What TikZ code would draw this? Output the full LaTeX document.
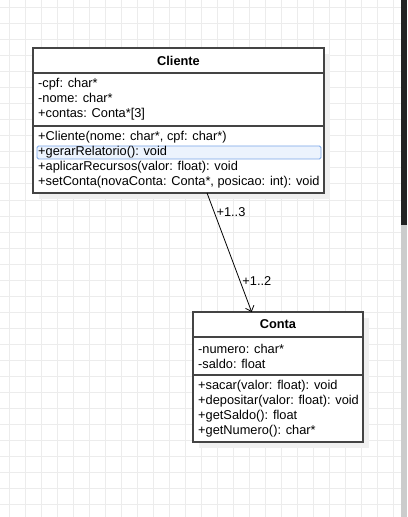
\documentclass[tikz,border=0pt]{standalone}
\usepackage{fontspec}
\setmainfont{Liberation Sans}
\usetikzlibrary{arrows.meta, positioning, calc, shadows}
\definecolor{gridline}{RGB}{236,236,236}
\definecolor{boxline}{RGB}{68,68,68}
\definecolor{shade}{RGB}{240,240,240}
\definecolor{selfill}{RGB}{236,243,253}
\definecolor{selline}{RGB}{122,166,232}
\definecolor{barthumb}{RGB}{34,34,34}
\definecolor{bartrack}{RGB}{204,204,204}

\begin{document}
\begin{tikzpicture}[x=1bp, y=-1bp,
    every node/.style={font=\fontsize{12.8bp}{15bp}\selectfont},
    classbox/.style={rectangle, draw=boxline, line width=1.3bp, fill=white,
                     anchor=north west, outer sep=0pt,
                     drop shadow={shadow xshift=6bp, shadow yshift=-6bp, fill=shade, opacity=1}},
    compart/.style={rectangle, draw=boxline, line width=1.3bp, anchor=north west,
                    inner sep=0pt, outer sep=0pt},
    members/.style={anchor=west, align=left, inner sep=0pt},
    assoc/.style={-{Straight Barb[length=5bp, width=9bp]}, line width=0.8bp}]

    \useasboundingbox (0,0) rectangle (407,517);

    % Canvas grid
    \fill[white] (0,0) rectangle (407,517);
    \foreach \x in {9,25,...,393}
        \draw[gridline, line width=1bp] (\x,0) -- (\x,517);
    \foreach \y in {8,24,...,504}
        \draw[gridline, line width=1bp] (0,\y) -- (401,\y);

    % Scrollbar
    \fill[barthumb] (401,0) rectangle (407,225);
    \fill[bartrack] (401,225) rectangle (407,517);

    % Cliente
    \node[classbox, minimum width=291bp, minimum height=145bp] (cliente) at (33,48) {};
    \draw[selline, fill=selfill, line width=0.8bp, rounded corners=1.5bp] (37,146) rectangle (321,159);
    \node[compart, minimum width=291bp, minimum height=25bp] (cliente-name) at (cliente.north west) {\textbf{Cliente}};
    \node[compart, minimum width=291bp, minimum height=53bp] (cliente-attrs) at (cliente-name.south west) {};
    \node[compart, minimum width=291bp, minimum height=67bp] (cliente-ops) at (cliente-attrs.south west) {};
    \node[members] (cliente-attrs-text) at ([xshift=5bp]cliente-attrs.west) {
        -cpf: char*\\ -nome: char*\\ +contas: Conta*[3]
    };
    \node[members] (cliente-ops-text) at ([xshift=5bp]cliente-ops.west) {
        +Cliente(nome: char*, cpf: char*)\\
        +gerarRelatorio(): void\\
        +aplicarRecursos(valor: float): void\\
        +setConta(novaConta: Conta*, posicao: int): void
    };

    % Conta
    \node[classbox, minimum width=170bp, minimum height=130bp] (conta) at (193,312) {};
    \node[compart, minimum width=170bp, minimum height=25bp] (conta-name) at (conta.north west) {\textbf{Conta}};
    \node[compart, minimum width=170bp, minimum height=38bp] (conta-attrs) at (conta-name.south west) {};
    \node[compart, minimum width=170bp, minimum height=67bp] (conta-ops) at (conta-attrs.south west) {};
    \node[members] (conta-attrs-text) at ([xshift=5bp]conta-attrs.west) {
        -numero: char*\\ -saldo: float
    };
    \node[members] (conta-ops-text) at ([xshift=5bp]conta-ops.west) {
        +sacar(valor: float): void\\
        +depositar(valor: float): void\\
        +getSaldo(): float\\
        +getNumero(): char*
    };

    % Association
    \draw[assoc] ($(cliente.south west)!0.598!(cliente.south east)$) -- ($(conta.north west)!0.345!(conta.north east)$)
        node[pos=0.16, anchor=west, inner sep=0pt, xshift=2bp] (mult-src) {+1..3}
        node[pos=0.74, anchor=west, inner sep=0pt, xshift=2bp] (mult-dst) {+1..2};
\end{tikzpicture}
\end{document}
